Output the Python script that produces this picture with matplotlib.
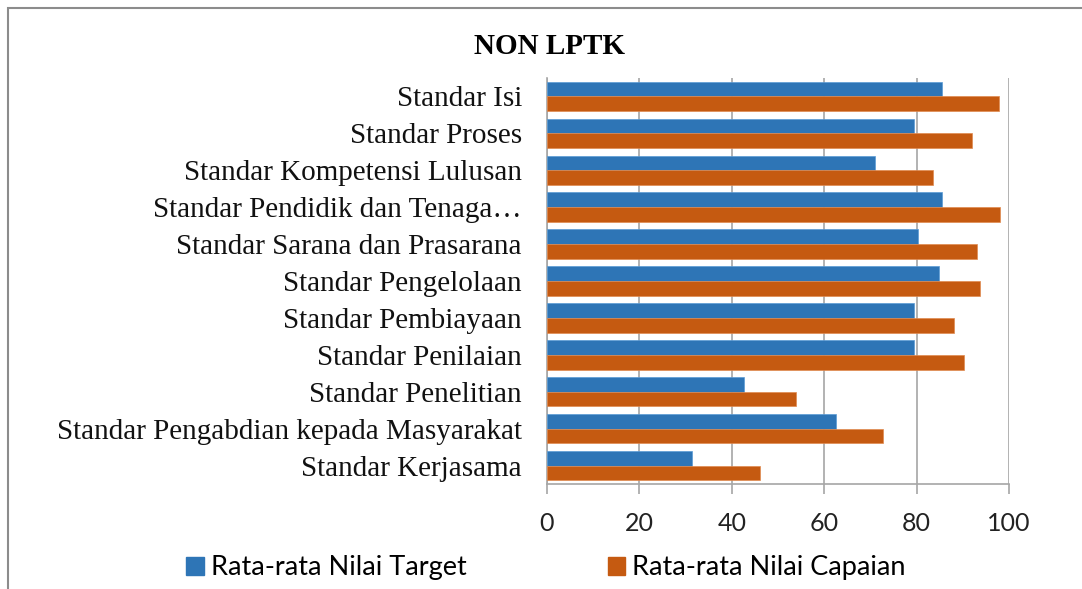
import matplotlib
matplotlib.use('Agg')
import matplotlib.pyplot as plt
from matplotlib.patches import Rectangle, Patch
import numpy as np

# Data
categories = [
    'Standar Isi',
    'Standar Proses',
    'Standar Kompetensi Lulusan',
    'Standar Pendidik dan Tenaga…',
    'Standar Sarana dan Prasarana',
    'Standar Pengelolaan',
    'Standar Pembiayaan',
    'Standar Penilaian',
    'Standar Penelitian',
    'Standar Pengabdian kepada Masyarakat',
    'Standar Kerjasama',
]
target = [85.4, 79.4, 71.1, 85.4, 80.4, 84.8, 79.5, 79.5, 42.7, 62.5, 31.3]
capaian = [97.8, 91.9, 83.6, 98.1, 93.1, 93.8, 88.2, 90.3, 53.8, 72.7, 46.2]
x_ticks = [0, 20, 40, 60, 80, 100]

BLUE = '#2E75B6'
ORANGE = '#C55A11'
GRID = '#A6A6A6'

W, H = 1082, 589
fig = plt.figure(figsize=(W / 100, H / 100), dpi=100)
fig.patch.set_facecolor('white')

# outer chart frame (only top and left visible in the crop)
fig.patches.append(Rectangle((8 / W, -0.1), 1.2, 1.1 - 8 / H, transform=fig.transFigure,
                             fill=False, edgecolor='#8C8C8C', linewidth=1.5))

ax = fig.add_axes([547 / W, 1 - 484 / H, (1009 - 547) / W, (484 - 78) / H])

y = np.arange(len(categories))
h = 0.4
ax.barh(y - h / 2, target, height=h, color=BLUE, edgecolor='#5B9BD5', linewidth=0.5, zorder=3)
ax.barh(y + h / 2, capaian, height=h, color=ORANGE, edgecolor='#E08A50', linewidth=0.5, zorder=3)

ax.set_ylim(len(categories) - 0.5, -0.5)
ax.set_xlim(0, 100)
ax.set_xticks(x_ticks)
ax.set_xticklabels([str(v) for v in x_ticks], fontfamily='Lato', fontsize=18, color='#222222')
ax.set_yticks(y)
ax.set_yticklabels(categories, fontfamily='Liberation Serif', fontsize=21, color='#111111')

ax.tick_params(axis='y', length=0, pad=18)
ax.tick_params(axis='x', length=7, width=1.2, color=GRID, pad=13)

ax.grid(axis='x', color=GRID, linewidth=1.2, zorder=0)
for s in ['top', 'right']:
    ax.spines[s].set_visible(False)
for s in ['left', 'bottom']:
    ax.spines[s].set_color(GRID)
    ax.spines[s].set_linewidth(1.2)

fig.text(550 / W, 1 - 47 / H, 'NON LPTK', ha='center', va='center',
         fontfamily='Liberation Serif', fontweight='bold', fontsize=21)

handles = [Patch(color=BLUE, label='Rata-rata Nilai Target'),
           Patch(color=ORANGE, label='Rata-rata Nilai Capaian')]
fig.legend(handles=handles, loc='center', bbox_to_anchor=(546 / W, 1 - 568 / H), ncol=2,
           frameon=False, prop={'family': 'Lato', 'size': 19.5},
           handlelength=0.66, handleheight=0.66, handletextpad=0.26, columnspacing=5.2)

fig.savefig('out.png', dpi=100)
